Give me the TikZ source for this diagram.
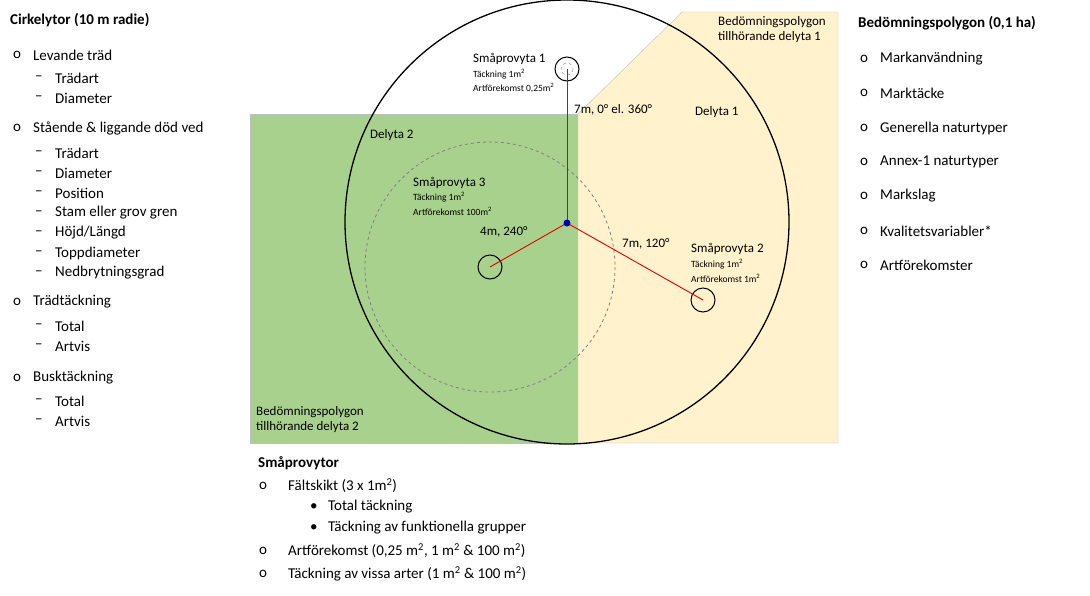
\documentclass[tikz,border=0pt]{standalone}
\usepackage{fontspec}
\setmainfont{Carlito}
\begin{document}
\begin{tikzpicture}[x=1pt,y=-1pt,
  txt/.style={anchor=west,inner sep=0pt,font=\fontsize{15}{17}\selectfont},
  hd/.style={anchor=west,inner sep=0pt,font=\fontsize{15}{17}\selectfont\bfseries},
  lab/.style={anchor=west,inner sep=0pt,font=\fontsize{13}{15}\selectfont},
  sm/.style={anchor=west,inner sep=0pt,font=\fontsize{9.5}{11}\selectfont},
  sp/.style={circle,draw=black,line width=1pt,minimum size=24pt,inner sep=0pt},
  red/.style={draw={rgb,255:red,230;green,0;blue,0},line width=0.9pt}]
\useasboundingbox (0,0) rectangle (1090,595);
\definecolor{grn}{RGB}{169,209,142}
\definecolor{yel}{RGB}{255,242,204}
\fill[grn,draw=gray!50] (250,114) rectangle (578,443);
\fill[yel,draw=gray!50] (578,443) -- (578,114) -- (682,12) -- (838,12) -- (838,443) -- cycle;
\draw[black,line width=1.3pt] (567,222) circle (222);
\draw[gray,dashed,line width=0.8pt] (490,267) circle (125);
\node[sp] (s1) at (567,69) {};
\draw[gray,dashed] (s1.center) circle (6);
\node[sp] (s2) at (703,300) {};
\node[sp] (s3) at (490,267) {};
\coordinate (c) at (567,223);
\draw[red] (c) -- (s1.center);
\draw[red] (c) -- (s2.center);
\draw[red] (c) -- (s3.center);
\fill[blue!70!black] (c) circle (3.5);
% center labels
\node[lab] (sp1) at (473,59) {Småprovyta 1};
\node[sm] (sp1a) at (473,74) {Täckning 1m\textsuperscript{2}};
\node[sm] (sp1b) at (473,88) {Artförekomst 0,25m\textsuperscript{2}};
\node[lab] (sp3) at (413,183) {Småprovyta 3};
\node[sm] (sp3a) at (413,197) {Täckning 1m\textsuperscript{2}};
\node[sm] (sp3b) at (413,211) {Artförekomst 100m\textsuperscript{2}};
\node[lab] (sp2) at (691,249) {Småprovyta 2};
\node[sm] (sp2a) at (691,264) {Täckning 1m\textsuperscript{2}};
\node[sm] (sp2b) at (691,278) {Artförekomst 1m\textsuperscript{2}};
\node[lab] (l0) at (574,110) {7m, 0° el. 360°};
\node[lab] (l240) at (480,232) {4m, 240°};
\node[lab] (l120) at (622,244) {7m, 120°};
\node[lab] (d1) at (695,112) {Delyta 1};
\node[lab] (d2) at (370,135) {Delyta 2};
\node[lab,align=left,anchor=north west] (bp1) at (718,16) {Bedömningspolygon\\tillhörande delyta 1};
\node[lab,align=left,anchor=north west] (bp2) at (256,406) {Bedömningspolygon\\tillhörande delyta 2};
% left list
\node[hd] (h1) at (10,20) {Cirkelytor (10 m radie)};
\foreach \t/\y in {Levande träd/55, Stående \& liggande död ved/128, Trädtäckning/302, Busktäckning/378}
  {\node[txt] at (13,\y) {o}; \node[txt] at (33,\y) {\t};}
\foreach \t/\y in {Trädart/78, Diameter/98, Trädart/153, Diameter/173, Position/193, Stam eller grov gren/213, {Höjd/Längd}/233, Toppdiameter/253, Nedbrytningsgrad/273, Total/326, Artvis/346, Total/401, Artvis/421}
  {\node[txt] at (35,\y) {--}; \node[txt] at (55,\y) {\t};}
% right list
\node[hd] (h2) at (858,23) {Bedömningspolygon (0,1 ha)};
\foreach \t/\y in {Markanvändning/59, Marktäcke/93, Generella naturtyper/128, Annex-1 naturtyper/162, Markslag/196, Kvalitetsvariabler*/231, Artförekomster/265}
  {\node[txt] at (860,\y) {o}; \node[txt] at (880,\y) {\t};}
% bottom list
\node[hd] (h3) at (258,463) {Småprovytor};
\foreach \t/\y in {Fältskikt (3 x 1m\textsuperscript{2})/486, Artförekomst (0{,}25 m\textsuperscript{2}{,} 1 m\textsuperscript{2} \& 100 m\textsuperscript{2})/551, Täckning av vissa arter (1 m\textsuperscript{2} \& 100 m\textsuperscript{2})/574}
  {\node[txt] at (259,\y) {o}; \node[txt] at (288,\y) {\t};}
\foreach \t/\y in {Total täckning/507, Täckning av funktionella grupper/528}
  {\node[txt] at (310,\y) {\textbullet}; \node[txt] at (328,\y) {\t};}
\end{tikzpicture}
\end{document}
